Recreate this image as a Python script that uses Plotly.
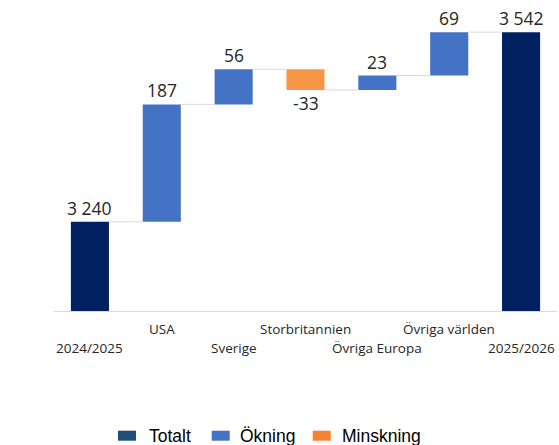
import plotly.graph_objects as go

categories = ["2024/2025", "USA", "Sverige", "Storbritannien", "Övriga Europa", "Övriga världen", "2025/2026"]
values = [3240, 187, 56, -33, 23, 69, 3542]
kinds = ["total", "inc", "inc", "dec", "inc", "inc", "total"]
value_labels = ["3 240", "187", "56", "-33", "23", "69", "3 542"]
legend_names = ["Totalt", "Ökning", "Minskning"]

bar_colors = {"total": "#002060", "inc": "#4472C4", "dec": "#F79646"}
legend_colors = {"Totalt": "#1F4E79", "Ökning": "#4472C4", "Minskning": "#F7822F"}

W, H = 559, 445
ML, MR, MT, MB = 54, 2, 20, 134
PW, PH = W - ML - MR, H - MT - MB
YMIN = 3098
YMAX = YMIN + PH / 0.628
BW = 0.53

# waterfall geometry from data
bottoms, tops, ends = [], [], []
cum = 0
for v, k in zip(values, kinds):
    if k == "total":
        bottoms.append(0); tops.append(v); cum = v
    else:
        start = cum; cum = cum + v
        bottoms.append(min(start, cum)); tops.append(max(start, cum))
    ends.append(cum)

fig = go.Figure()
for k in ["total", "inc", "dec"]:
    idx = [i for i, kk in enumerate(kinds) if kk == k]
    fig.add_trace(go.Bar(
        x=idx, y=[tops[i] - bottoms[i] for i in idx], base=[bottoms[i] for i in idx],
        width=BW, marker=dict(color=bar_colors[k], line=dict(width=0)),
        showlegend=False, hoverinfo="skip"))

cx, cy = [], []
for i in range(len(values) - 1):
    cx += [i + BW / 2, i + 1 - BW / 2, None]
    cy += [ends[i], ends[i], None]
fig.add_trace(go.Scatter(x=cx, y=cy, mode="lines", line=dict(color="#D9D9D9", width=1),
                         showlegend=False, hoverinfo="skip"))

anns = []
for i, (v, lab) in enumerate(zip(values, value_labels)):
    if v >= 0:
        anns.append(dict(x=i, y=tops[i], text=lab, showarrow=False, yanchor="bottom", yshift=0,
                         font=dict(family="Open Sans", size=17.5, color="#262626")))
    else:
        anns.append(dict(x=i, y=bottoms[i], text=lab, showarrow=False, yanchor="top", yshift=1,
                         font=dict(family="Open Sans", size=17.5, color="#262626")))

for i, c in enumerate(categories):
    anns.append(dict(x=i, xref="x", y=0, yref="paper", text=c, showarrow=False,
                     yanchor="middle", yshift=-18 if i % 2 == 1 else -37,
                     font=dict(family="Open Sans", size=13.5, color="#262626")))

def px2x(px):
    return (px - ML) / PW

def py2y(py):
    return (H - MB - py) / PH

shapes = []
leg_pos = [(118, 146.7), (211.7, 238), (312.7, 340)]
for name, (mx, tx) in zip(legend_names, leg_pos):
    shapes.append(dict(type="rect", xref="paper", yref="paper",
                       x0=px2x(mx), x1=px2x(mx + 18), y0=py2y(440.7), y1=py2y(430.7),
                       fillcolor=legend_colors[name], line=dict(width=0)))
    anns.append(dict(x=px2x(tx), xref="paper", y=py2y(436), yref="paper", text=name,
                     showarrow=False, xanchor="left", yanchor="middle",
                     font=dict(family="Liberation Sans", size=17.5, color="#000000")))

fig.update_layout(
    width=W, height=H, margin=dict(l=ML, r=MR, t=MT, b=MB),
    paper_bgcolor="white", plot_bgcolor="white", barmode="overlay",
    xaxis=dict(range=[-0.5, len(values) - 0.5], showticklabels=False, showgrid=False,
               zeroline=False, showline=True, linecolor="#D9D9D9", linewidth=1, ticks=""),
    yaxis=dict(range=[YMIN, YMAX], visible=False, showgrid=False, zeroline=False),
    annotations=anns, shapes=shapes, showlegend=False)

fig.write_html("out.html", config={"displayModeBar": False})

# remove default page margin so the figure sits at the window's top-left corner
with open("out.html", "r", encoding="utf-8") as f:
    html = f.read()
html = html.replace("<head>", "<head><style>html,body{margin:0;padding:0;overflow:hidden;}</style>", 1)
with open("out.html", "w", encoding="utf-8") as f:
    f.write(html)
